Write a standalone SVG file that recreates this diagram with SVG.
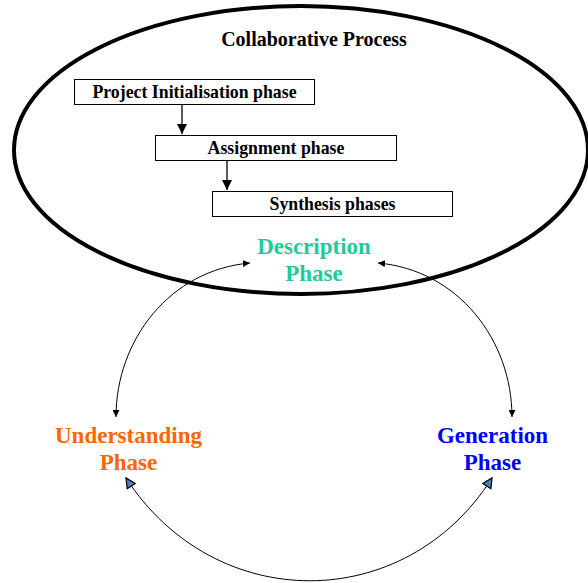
<svg xmlns="http://www.w3.org/2000/svg" width="588" height="583" viewBox="0 0 588 583">
  <style>
    .box { fill: #ffffff; stroke: #000000; stroke-width: 1; }
    .boxlabel { font-family: "Liberation Serif", "Times New Roman", serif; font-weight: bold; font-size: 17.8px; fill: #000000; text-anchor: middle; }
    .title { font-family: "Liberation Serif", "Times New Roman", serif; font-weight: bold; font-size: 20px; fill: #000000; text-anchor: middle; }
    .phase { font-family: "Liberation Serif", "Times New Roman", serif; font-weight: bold; font-size: 23px; text-anchor: middle; }
    .arc { fill: none; stroke: #000000; stroke-width: 1; }
    .flow { fill: none; stroke: #000000; stroke-width: 1.3; }
  </style>
  <defs>
    <marker id="arrowBlack" viewBox="0 0 10 10" refX="10" refY="5" markerWidth="7" markerHeight="7" markerUnits="userSpaceOnUse" orient="auto-start-reverse">
      <path d="M0,0 L10,5 L0,10 Z" fill="#000000"/>
    </marker>
    <marker id="arrowFlow" viewBox="0 0 10 10" refX="10" refY="5" markerWidth="10" markerHeight="10" markerUnits="userSpaceOnUse" orient="auto">
      <path d="M0,0 L10,5 L0,10 Z" fill="#000000"/>
    </marker>
    <marker id="arrowBlue" viewBox="0 0 10 10" refX="9" refY="5" markerWidth="12" markerHeight="12" markerUnits="userSpaceOnUse" orient="auto-start-reverse">
      <path d="M1,1 L9,5 L1,9 Z" fill="#4a7fc0" stroke="#000000" stroke-width="1"/>
    </marker>
  </defs>

  <rect width="588" height="583" fill="#ffffff"/>

  <!-- Collaborative process boundary -->
  <g id="collaborative-process">
    <ellipse cx="301" cy="150" rx="287" ry="144" fill="none" stroke="#000000" stroke-width="4"/>
    <text class="title" x="314" y="46">Collaborative Process</text>
  </g>

  <g id="project-initialisation">
    <rect class="box" x="74.5" y="79.5" width="240" height="25"/>
    <text class="boxlabel" x="194.5" y="98">Project Initialisation phase</text>
  </g>

  <g id="assignment">
    <rect class="box" x="155.5" y="135.5" width="241" height="25"/>
    <text class="boxlabel" x="276" y="154">Assignment phase</text>
  </g>

  <g id="synthesis">
    <rect class="box" x="212.5" y="191.5" width="240" height="25"/>
    <text class="boxlabel" x="332.5" y="210">Synthesis phases</text>
  </g>

  <g id="description-phase">
    <text class="phase" fill="#1ecc99" x="314" y="254">Description</text>
    <text class="phase" fill="#1ecc99" x="314" y="281">Phase</text>
  </g>

  <g id="understanding-phase">
    <text class="phase" fill="#ff6600" x="128.5" y="443">Understanding</text>
    <text class="phase" fill="#ff6600" x="128.5" y="470">Phase</text>
  </g>

  <g id="generation-phase">
    <text class="phase" fill="#0000ff" x="492.5" y="443">Generation</text>
    <text class="phase" fill="#0000ff" x="492.5" y="470">Phase</text>
  </g>

  <!-- Connectors -->
  <g id="connectors">
    <path class="flow" d="M182,105 L182,134" marker-end="url(#arrowFlow)"/>
    <path class="flow" d="M227,161 L227,190" marker-end="url(#arrowFlow)"/>

    <path class="arc" d="M116,417 C116,340 170,270 250,263" marker-start="url(#arrowBlack)" marker-end="url(#arrowBlack)"/>
    <path class="arc" d="M512,417 C512,340 458,270 378,263" marker-start="url(#arrowBlack)" marker-end="url(#arrowBlack)"/>

    <path class="arc" d="M126,478 C215,615 405,615 492,478" marker-start="url(#arrowBlue)" marker-end="url(#arrowBlue)"/>
  </g>
</svg>
